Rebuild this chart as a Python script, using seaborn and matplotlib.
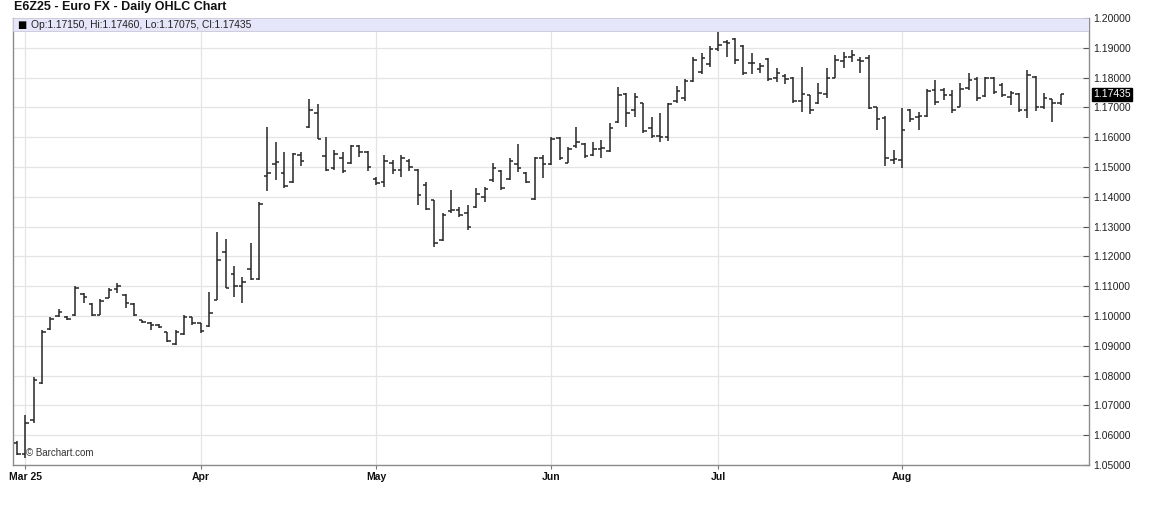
import numpy as np
import pandas as pd
import matplotlib
matplotlib.use("Agg")
import matplotlib.pyplot as plt
from matplotlib.patches import Rectangle
from matplotlib.ticker import FormatStrFormatter, MultipleLocator
import seaborn as sns

SYMBOL_TITLE = "E6Z25 - Euro FX - Daily OHLC Chart"
START, END = "2025-02-28", "2025-08-28"
HOLIDAYS = ["2025-04-18", "2025-05-26", "2025-06-19", "2025-07-04"]

opens = [
    1.0575, 1.0537, 1.0650, 1.0775, 1.0955, 1.1000, 1.0998, 1.1002, 1.1075, 1.1040,
    1.1005, 1.1062, 1.1090, 1.1070, 1.1040, 1.0985, 1.0978, 1.0970, 1.0945, 1.0905,
    1.0940, 1.0995, 1.0975, 1.0965, 1.1055, 1.1215, 1.1140, 1.1100, 1.1158, 1.1124,
    1.1470, 1.1510, 1.1480, 1.1450, 1.1540, 1.1635, 1.1680, 1.1537, 1.1495, 1.1530,
    1.1512, 1.1570, 1.1550, 1.1460, 1.1450, 1.1515, 1.1490, 1.1520, 1.1490, 1.1440,
    1.1388, 1.1255, 1.1352, 1.1355, 1.1345, 1.1365, 1.1400, 1.1455, 1.1485, 1.1460,
    1.1510, 1.1480, 1.1392, 1.1530, 1.1510, 1.1598, 1.1515, 1.1570, 1.1578, 1.1540,
    1.1560, 1.1553, 1.1650, 1.1745, 1.1690, 1.1715, 1.1630, 1.1605, 1.1600, 1.1720,
    1.1730, 1.1790, 1.1820, 1.1845, 1.1895, 1.1920, 1.1930, 1.1905, 1.1848, 1.1830,
    1.1862, 1.1800, 1.1805, 1.1800, 1.1720, 1.1740, 1.1715, 1.1745, 1.1800, 1.1855,
    1.1870, 1.1860, 1.1866, 1.1700, 1.1665, 1.1525, 1.1525, 1.1690, 1.1668, 1.1670,
    1.1760, 1.1757, 1.1740, 1.1700, 1.1765, 1.1795, 1.1738, 1.1798, 1.1775, 1.1735,
    1.1745, 1.1690, 1.1803, 1.1700, 1.1728, 1.17150,
]
highs = [
    1.0581, 1.0668, 1.0795, 1.0953, 1.0997, 1.1024, 1.1000, 1.1101, 1.1077, 1.1044,
    1.1057, 1.1094, 1.1111, 1.1074, 1.1044, 1.0987, 1.0980, 1.0973, 1.0946, 1.0953,
    1.1003, 1.0997, 1.0977, 1.1080, 1.1282, 1.1258, 1.1168, 1.1131, 1.1245, 1.1383,
    1.1634, 1.1584, 1.1550, 1.1547, 1.1550, 1.1728, 1.1711, 1.1601, 1.1557, 1.1550,
    1.1574, 1.1574, 1.1554, 1.1466, 1.1540, 1.1523, 1.1540, 1.1527, 1.1493, 1.1450,
    1.1389, 1.1346, 1.1423, 1.1366, 1.1372, 1.1430, 1.1433, 1.1513, 1.1490, 1.1530,
    1.1577, 1.1483, 1.1534, 1.1540, 1.1601, 1.1601, 1.1567, 1.1634, 1.1580, 1.1584,
    1.1591, 1.1648, 1.1768, 1.1748, 1.1748, 1.1715, 1.1668, 1.1681, 1.1715, 1.1772,
    1.1795, 1.1869, 1.1883, 1.1906, 1.1953, 1.1926, 1.1933, 1.1909, 1.1883, 1.1849,
    1.1866, 1.1832, 1.1812, 1.1802, 1.1836, 1.1742, 1.1782, 1.1832, 1.1876, 1.1886,
    1.1893, 1.1869, 1.1876, 1.1701, 1.1671, 1.1557, 1.1698, 1.1695, 1.1685, 1.1762,
    1.1792, 1.1765, 1.1758, 1.1782, 1.1815, 1.1802, 1.1802, 1.1802, 1.1782, 1.1755,
    1.1748, 1.1825, 1.1805, 1.1748, 1.1728, 1.17460,
]
lows = [
    1.0534, 1.0525, 1.0641, 1.0772, 1.0953, 1.0997, 1.0987, 1.1000, 1.1044, 1.1000,
    1.1003, 1.1060, 1.1077, 1.1027, 1.1000, 1.0977, 1.0953, 1.0960, 1.0913, 1.0903,
    1.0936, 1.0970, 1.0943, 1.0963, 1.1054, 1.1094, 1.1064, 1.1044, 1.1121, 1.1121,
    1.1420, 1.1456, 1.1430, 1.1446, 1.1503, 1.1631, 1.1594, 1.1487, 1.1490, 1.1480,
    1.1510, 1.1534, 1.1487, 1.1440, 1.1433, 1.1477, 1.1466, 1.1487, 1.1372, 1.1356,
    1.1232, 1.1252, 1.1346, 1.1332, 1.1289, 1.1362, 1.1383, 1.1450, 1.1423, 1.1456,
    1.1483, 1.1446, 1.1389, 1.1463, 1.1507, 1.1523, 1.1513, 1.1564, 1.1530, 1.1537,
    1.1530, 1.1550, 1.1648, 1.1634, 1.1668, 1.1614, 1.1597, 1.1584, 1.1587, 1.1715,
    1.1721, 1.1785, 1.1812, 1.1836, 1.1889, 1.1869, 1.1846, 1.1809, 1.1812, 1.1815,
    1.1789, 1.1785, 1.1778, 1.1715, 1.1685, 1.1678, 1.1711, 1.1732, 1.1799, 1.1832,
    1.1852, 1.1815, 1.1695, 1.1624, 1.1503, 1.1510, 1.1497, 1.1651, 1.1624, 1.1668,
    1.1708, 1.1725, 1.1681, 1.1700, 1.1760, 1.1720, 1.1736, 1.1745, 1.1735, 1.1708,
    1.1685, 1.1664, 1.1688, 1.1695, 1.1651, 1.17075,
]
closes = [
    1.0537, 1.0640, 1.0785, 1.0945, 1.0990, 1.1015, 1.0990, 1.1095, 1.1065, 1.1003,
    1.1050, 1.1088, 1.1100, 1.1045, 1.1003, 1.0980, 1.0970, 1.0962, 1.0916, 1.0945,
    1.0998, 1.0975, 1.0948, 1.1010, 1.1188, 1.1095, 1.1100, 1.1115, 1.1123, 1.1376,
    1.1480, 1.1518, 1.1435, 1.1545, 1.1520, 1.1690, 1.1595, 1.1490, 1.1545, 1.1485,
    1.1570, 1.1550, 1.1500, 1.1445, 1.1520, 1.1490, 1.1530, 1.1500, 1.1405, 1.1360,
    1.1245, 1.1340, 1.1355, 1.1340, 1.1300, 1.1410, 1.1425, 1.1495, 1.1430, 1.1520,
    1.1495, 1.1450, 1.1530, 1.1510, 1.1594, 1.1530, 1.1560, 1.1585, 1.1537, 1.1560,
    1.1565, 1.1630, 1.1740, 1.1680, 1.1735, 1.1620, 1.1605, 1.1600, 1.1710, 1.1755,
    1.1790, 1.1860, 1.1865, 1.1895, 1.1910, 1.1915, 1.1860, 1.1815, 1.1848, 1.1838,
    1.1795, 1.1815, 1.1795, 1.1720, 1.1745, 1.1690, 1.1748, 1.1800, 1.1860, 1.1870,
    1.1875, 1.1855, 1.1698, 1.1660, 1.1530, 1.1528, 1.1625, 1.1660, 1.1672, 1.1755,
    1.1718, 1.1742, 1.1690, 1.1763, 1.1793, 1.1730, 1.1800, 1.1750, 1.1740, 1.1748,
    1.1690, 1.1810, 1.1700, 1.1732, 1.1715, 1.17435,
]

BAR = "#262626"
GRID = "#e4e4e4"
BAND = "#e6e6fa"

# trading calendar -> bar index
dates = pd.bdate_range(START, END)
dates = dates[~dates.isin(pd.to_datetime(HOLIDAYS))]
df = pd.DataFrame({"date": dates, "open": opens, "high": highs, "low": lows, "close": closes})
df["x"] = np.arange(len(df))

month_first = df.groupby(df["date"].dt.to_period("M"))["x"].min()
month_first = month_first[month_first > 0]
tick_pos = month_first.values
tick_lab = [
    f"{p.strftime('%b')} {p.strftime('%y')}" if k == 0 else p.strftime("%b")
    for k, p in enumerate(month_first.index)
]

sns.set_theme(style="white")
plt.rcParams["font.family"] = ["Liberation Sans", "DejaVu Sans"]

fig = plt.figure(figsize=(11.75, 5.16), dpi=100)
ax = fig.add_axes([13 / 1175, 51 / 516, 1076 / 1175, 447 / 516])

ax.set_xlim(-0.48, 128.4)
ax.set_ylim(1.05, 1.20)

# grid
ax.yaxis.set_major_locator(MultipleLocator(0.01))
for y in np.arange(1.05, 1.2001, 0.01):
    ax.axhline(y, color=GRID, lw=0.9, zorder=0)
for x in tick_pos:
    ax.axvline(x, color=GRID, lw=0.9, zorder=0)

# OHLC bars
half = 0.42
ax.vlines(df["x"], df["low"], df["high"], color=BAR, lw=1.1, zorder=3)
ax.hlines(df["open"], df["x"] - half, df["x"], color=BAR, lw=1.1, zorder=3)
ax.hlines(df["close"], df["x"], df["x"] + half, color=BAR, lw=1.1, zorder=3)

# header band
band_h = 13 / 447
ax.add_patch(Rectangle((0, 1 - band_h), 1, band_h, transform=ax.transAxes,
                       facecolor=BAND, edgecolor="#c8c8d8", lw=0.6, zorder=4))
last = df.iloc[-1]
ax.text(0.004, 1 - band_h / 2, "\u25A0", transform=ax.transAxes, fontsize=7,
        va="center", ha="left", color="black", zorder=5, family=["DejaVu Sans"])
ax.text(0.017, 1 - band_h / 2,
        f"Op:{last['open']:.5f}, Hi:{last['high']:.5f}, Lo:{last['low']:.5f}, Cl:{last['close']:.5f}",
        transform=ax.transAxes, fontsize=7.4, va="center", ha="left", color="#222222", zorder=5)

# axes styling
ax.spines["top"].set_visible(False)
for side in ["left", "bottom", "right"]:
    ax.spines[side].set_color("#8c8c8c")
    ax.spines[side].set_linewidth(1.0)

ax.yaxis.tick_right()
ax.yaxis.set_major_formatter(FormatStrFormatter("%.5f"))
ax.tick_params(axis="y", direction="in", length=4, width=0.8, color="#555555",
               labelsize=7.5, labelcolor="#222222", pad=3, right=True, left=False)
ax.set_xticks(tick_pos)
ax.set_xticklabels(tick_lab, fontweight="bold")
ax.tick_params(axis="x", direction="out", length=3, width=0.8, color="#777777",
               labelsize=7.5, labelcolor="#111111", pad=2, bottom=True)

# last price marker
ax.annotate(f"{last['close']:.5f}", xy=(1.0, last["close"]), xycoords=("axes fraction", "data"),
            xytext=(3, 0), textcoords="offset points", fontsize=7.5, color="white",
            va="center", ha="left", zorder=6, annotation_clip=False,
            bbox=dict(boxstyle="square,pad=0.15", facecolor="black", edgecolor="black"))

ax.text(0.012, 0.026, "\u00a9 Barchart.com", transform=ax.transAxes, fontsize=7,
        color="#333333", va="center", ha="left", zorder=5)

fig.text(14 / 1175, 1 - 7 / 516, SYMBOL_TITLE, fontsize=9, fontweight="bold",
         va="center", ha="left", color="#111111")

fig.savefig("out.png", dpi=100)
